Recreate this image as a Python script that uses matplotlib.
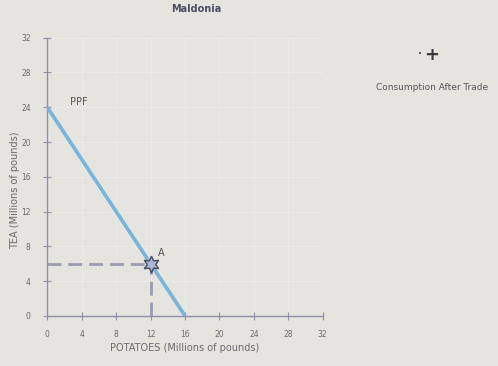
import numpy as np
import matplotlib.pyplot as plt

# PPF endpoints and point A
ppf_x = [0, 16]
ppf_y = [24, 0]
point_a = (12, 6)
ticks = [0, 4, 8, 12, 16, 20, 24, 28, 32]

bg = '#e6e4de'
axis_col = '#8f90a8'
text_col = '#6a6a70'

fig = plt.figure(figsize=(4.98, 3.66), dpi=100)
fig.patch.set_facecolor(bg)
ax = fig.add_axes([0.095, 0.137, 0.553, 0.76])
ax.set_facecolor(bg)

ax.set_xlim(0, 32)
ax.set_ylim(0, 32)
ax.set_xticks(ticks)
ax.set_yticks(ticks)
ax.grid(True, color='#eceae6', linewidth=0.8)
ax.set_axisbelow(True)

for s in ['top', 'right']:
    ax.spines[s].set_visible(False)
for s in ['left', 'bottom']:
    ax.spines[s].set_color(axis_col)
    ax.spines[s].set_linewidth(1.0)
ax.tick_params(direction='inout', length=6, color=axis_col, labelsize=5.5,
               labelcolor=text_col)
ax.tick_params(axis='x', pad=7)
ax.tick_params(axis='y', pad=9)

# PPF line
ax.plot(ppf_x, ppf_y, color='#78b4de', linewidth=2.6, solid_capstyle='butt', zorder=3)
ax.text(2.6, 24.3, 'PPF', fontsize=7, color='#555560')

# dashed guides to point A
ax.plot([0, point_a[0]], [point_a[1], point_a[1]], color='#9a9cb4',
        linewidth=2, linestyle=(0, (5, 2.5)), zorder=2)
ax.plot([point_a[0], point_a[0]], [0, point_a[1]], color='#9a9cb4',
        linewidth=2, linestyle=(0, (5, 2.5)), zorder=2)
ax.plot(*point_a, marker=(6, 1, 0), markersize=12, color='#a8b8d8',
        markeredgecolor='#4a4a5a', markeredgewidth=1.0, zorder=4)
ax.text(point_a[0] + 0.8, point_a[1] + 0.9, 'A', fontsize=7, color='#555560')

ax.set_xlabel('POTATOES (Millions of pounds)', fontsize=7, color=text_col, labelpad=3)
ax.set_ylabel('TEA (Millions of pounds)', fontsize=7, color=text_col)
ax.yaxis.set_label_coords(-0.1, 0.45)

fig.text(0.395, 0.975, 'Maldonia', fontsize=7, fontweight='bold', color='#4a4e66',
         ha='center', va='center')

# legend item
fig.text(0.867, 0.85, '+', fontsize=13, fontweight='bold', color='#3a3a40',
         ha='center', va='center')
fig.text(0.843, 0.853, '•', fontsize=5, color='#3a3a40', ha='center', va='center')
fig.text(0.868, 0.762, 'Consumption After Trade', fontsize=6.5, color='#555560',
         ha='center', va='center')

fig.savefig('out.png', dpi=100, facecolor=bg)
